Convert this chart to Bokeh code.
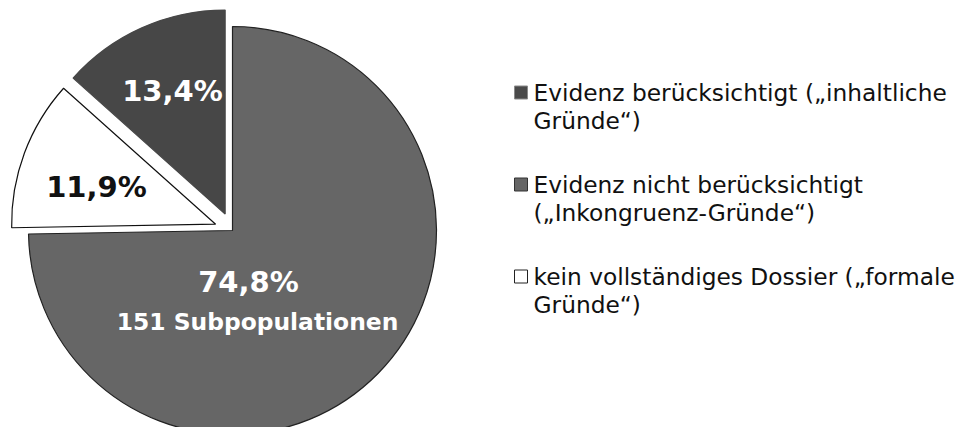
import math
from bokeh.plotting import figure
from bokeh.models import Range1d, ColumnDataSource
from bokeh.core.properties import value
from bokeh.embed import file_html
from bokeh.resources import INLINE

# ---- data ----
categories = ["Evidenz nicht berücksichtigt", "kein vollständiges Dossier", "Evidenz berücksichtigt"]
shares = [74.8, 11.9, 13.4]
pct_labels = ["74,8%", "11,9%", "13,4%"]
slice_colors = ["#666666", "#ffffff", "#474747"]
slice_lines = ["#222222", "#111111", "#474747"]
label_colors = ["#ffffff", "#111111", "#ffffff"]
explode = [0, 18, 18]
sub_label = "151 Subpopulationen"

legend_texts = [
    "Evidenz berücksichtigt („inhaltliche\nGründe“)",
    "Evidenz nicht berücksichtigt\n(„Inkongruenz-Gründe“)",
    "kein vollständiges Dossier („formale\nGründe“)",
]
legend_fill = ["#4a4a4a", "#666666", "#ffffff"]
legend_line = ["#8a8a8a", "#333333", "#222222"]

W, H = 960, 427
p = figure(width=W, height=H, output_backend="svg", toolbar_location=None,
           x_range=Range1d(0, W), y_range=Range1d(0, H),
           x_axis_location=None, y_axis_location=None, min_border=0)
p.grid.visible = False
p.outline_line_color = None
p.background_fill_color = "white"

cx, cy, R = 232, H - 230, 204
total = sum(shares)

xs, ys, starts, ends = [], [], [], []
cum = 0.0
for s, e in zip(shares, explode):
    a0 = math.pi / 2 - 2 * math.pi * (cum + s) / total
    a1 = math.pi / 2 - 2 * math.pi * cum / total
    m = (a0 + a1) / 2
    xs.append(cx + e * math.cos(m))
    ys.append(cy + e * math.sin(m))
    starts.append(a0)
    ends.append(a1)
    cum += s

src = ColumnDataSource(dict(x=xs, y=ys, start=starts, end=ends,
                            fill=slice_colors, line=slice_lines))
p.wedge(x="x", y="y", radius=R, start_angle="start", end_angle="end",
        fill_color="fill", line_color="line", line_width=1.2, source=src)

# percentage labels (offsets from pie centre)
label_offsets = [(16, -51), (-136, 44), (-60, 140)]
lx = [cx + dx for dx, dy in label_offsets]
ly = [cy + dy for dx, dy in label_offsets]
p.text(x=lx, y=ly, text=pct_labels, text_color=label_colors,
       text_font=value("DejaVu Sans"), text_font_style="bold",
       text_font_size="29px", text_align="center", text_baseline="middle")
p.text(x=[cx + 25], y=[cy - 91], text=[sub_label], text_color="#ffffff",
       text_font=value("DejaVu Sans"), text_font_style="bold",
       text_font_size="23.4px", text_align="center", text_baseline="middle")

# legend
leg_x = 533
sq_x = 520.5
entry_y = [H - 92, H - 184, H - 276]
line_h = 27.5
for i, t in enumerate(legend_texts):
    p.rect(x=[sq_x], y=[entry_y[i]], width=13, height=13,
           fill_color=legend_fill[i], line_color=legend_line[i], line_width=1)
    lines = t.split("\n")
    p.text(x=[leg_x] * len(lines), y=[entry_y[i] - k * line_h for k in range(len(lines))],
           text=lines, text_color="#111111", text_font=value("DejaVu Sans"),
           text_font_size="23.3px", text_align="left", text_baseline="middle")

open("out.html", "w").write(file_html(p, INLINE))
